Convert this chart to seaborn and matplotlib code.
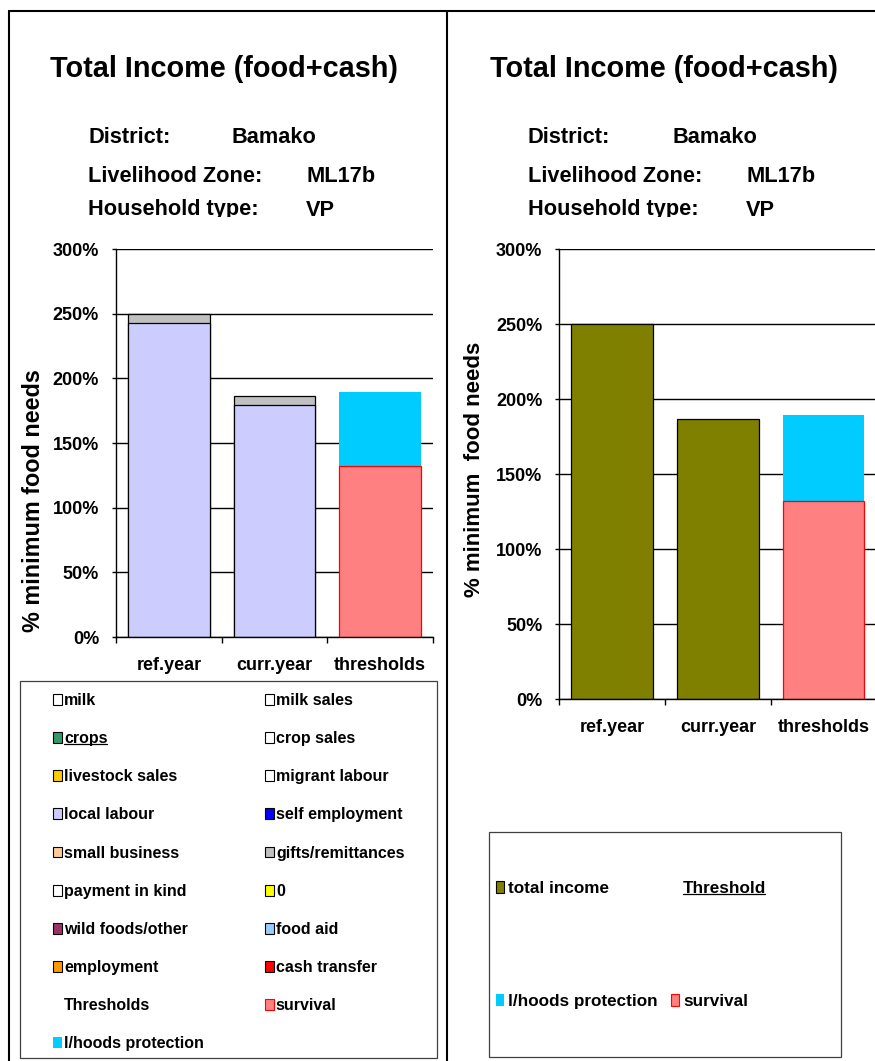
import matplotlib
matplotlib.use("Agg")
import matplotlib.pyplot as plt
from matplotlib import font_manager
from matplotlib.patches import Patch, Rectangle
from matplotlib.lines import Line2D
from matplotlib.ticker import FuncFormatter, FixedLocator, MultipleLocator
from matplotlib.transforms import Bbox, TransformedBbox
import pandas as pd
import seaborn as sns

# ---------------------------------------------------------------- data
categories = ["ref.year", "curr.year", "thresholds"]

income_sources = ["milk", "milk sales", "crops", "crop sales", "livestock sales",
                  "migrant labour", "local labour", "self employment",
                  "small business", "gifts/remittances", "payment in kind", "0",
                  "wild foods/other", "food aid", "employment", "cash transfer"]
ref_year_income = [0, 0, 0, 0, 0, 0, 242.5, 0, 0, 7.5, 0, 0, 0, 0, 0, 0]
curr_year_income = [0, 0, 0, 0, 0, 0, 179.3, 0, 0, 7.4, 0, 0, 0, 0, 0, 0]

threshold_levels = ["survival", "l/hoods protection"]
threshold_values = [132.0, 57.5]

district = "Bamako"
livelihood_zone = "ML17b"
household_type = "VP"

# ---------------------------------------------------------------- styling
source_colors = {
    "milk": "#FFFFFF", "milk sales": "#FFFFFF", "crops": "#339966",
    "crop sales": "#FFFFFF", "livestock sales": "#FFCC00",
    "migrant labour": "#FFFFFF", "local labour": "#CCCCFF",
    "self employment": "#0000FF", "small business": "#FFCC99",
    "gifts/remittances": "#C0C0C0", "payment in kind": "#FFFFFF",
    "0": "#FFFF00", "wild foods/other": "#993366", "food aid": "#99CCFF",
    "employment": "#FF9900", "cash transfer": "#FF0000",
}
SURVIVAL = "#FF8080"
PROTECTION = "#00CCFF"
TOTAL = "#808000"

sns.set_style("white")
plt.rcParams["font.family"] = ["Liberation Sans", "DejaVu Sans"]
plt.rcParams["font.weight"] = "bold"
plt.rcParams["text.color"] = "black"
plt.rcParams["axes.labelcolor"] = "black"
plt.rcParams["xtick.color"] = "black"
plt.rcParams["ytick.color"] = "black"
plt.rcParams["legend.labelcolor"] = "black"

installed = {f.name for f in font_manager.fontManager.ttflist}
if "Liberation Sans Narrow" in installed:
    TITLE_FAMILY, TITLE_SIZE = ["Liberation Sans Narrow", "Liberation Sans"], 25
else:
    TITLE_FAMILY, TITLE_SIZE = ["Liberation Sans", "DejaVu Sans"], 20.8

W, H = 875, 1061
fig = plt.figure(figsize=(W / 100, H / 100), dpi=100)


def fx(px):
    return px / W


def fy(py):
    return 1 - py / H


# ---------------------------------------------------------------- tidy tables
rows = []
for cat, vals in (("ref.year", ref_year_income), ("curr.year", curr_year_income)):
    top = 0.0
    for src, v in zip(income_sources, vals):
        top += v
        rows.append(dict(category=cat, part=src, value=v, top=top))
top = 0.0
for lvl, v in zip(threshold_levels, threshold_values):
    top += v
    rows.append(dict(category="thresholds", part=lvl, value=v, top=top))
stack = pd.DataFrame(rows)

totals = (stack[stack.category != "thresholds"]
          .groupby("category", sort=False)["value"].sum().reset_index())

BAR_W = 0.77


def draw_layer(ax, sub, color, edge, lw):
    if sub.empty:
        return
    sns.barplot(data=sub, x="category", y="top", order=categories, color=color,
                saturation=1, width=BAR_W, edgecolor=edge, linewidth=lw,
                errorbar=None, ax=ax)


def style_axes(ax, ylabel, label_xy, label_size):
    ax.set_xlim(-0.5, 2.5)
    ax.set_ylim(0, 300)
    ax.yaxis.set_major_locator(MultipleLocator(50))
    ax.yaxis.set_major_formatter(FuncFormatter(lambda v, _: f"{v:.0f}%"))
    ax.grid(axis="y", color="black", linewidth=1.0)
    ax.grid(axis="x", visible=False)
    ax.set_axisbelow(True)
    for s in ("top", "right"):
        ax.spines[s].set_visible(False)
    for s in ("left", "bottom"):
        ax.spines[s].set_color("black")
        ax.spines[s].set_linewidth(1.0)
    ax.tick_params(axis="y", which="major", left=True, length=3.2, width=1,
                   color="black", pad=9, labelsize=13, labelcolor="black")
    ax.tick_params(axis="x", which="major", bottom=False, length=0, pad=14.5,
                   labelsize=13, labelcolor="black")
    ax.xaxis.set_minor_locator(FixedLocator([-0.5, 0.5, 1.5, 2.5]))
    ax.tick_params(axis="x", which="minor", bottom=True, length=4, width=1,
                   color="black")
    for lab in ax.get_xticklabels() + ax.get_yticklabels():
        lab.set_fontweight("bold")
    ax.set_xlabel("")
    ax.set_ylabel(ylabel, fontsize=label_size, fontweight="bold", color="black")
    ax.yaxis.set_label_coords(*label_xy)
    ax.yaxis.label.set_verticalalignment("center")


# ---------------------------------------------------------------- left panel
axL = fig.add_axes([fx(116), fy(637), fx(433) - fx(116), (637 - 249) / H])
for src in reversed(income_sources):
    sub = stack[(stack.part == src) & (stack.value > 0)]
    draw_layer(axL, sub, source_colors[src], "black", 0.9)
draw_layer(axL, stack[(stack.part == "l/hoods protection") & (stack.value > 0)],
           PROTECTION, "none", 0)
draw_layer(axL, stack[(stack.part == "survival") & (stack.value > 0)],
           SURVIVAL, "#FF0000", 0.9)
style_axes(axL, "% minimum food needs", ((34 - 116) / 317, (637 - 501) / 388),
           16.8)

# ---------------------------------------------------------------- right panel
axR = fig.add_axes([fx(559.3), fy(699.3), (876.4 - 559.3) / W, (699.3 - 249) / H])
sns.barplot(data=totals, x="category", y="value", order=categories, color=TOTAL,
            saturation=1, width=BAR_W, edgecolor="black", linewidth=0.9,
            errorbar=None, ax=axR)
draw_layer(axR, stack[stack.part == "l/hoods protection"], PROTECTION, "none", 0)
draw_layer(axR, stack[stack.part == "survival"], SURVIVAL, "#FF0000", 0.9)
style_axes(axR, "% minimum  food needs", ((475 - 559.3) / 317, 0.511), 16)

# ---------------------------------------------------------------- headings
clip_box = TransformedBbox(Bbox([[0, fy(217)], [1, 1]]), fig.transFigure)
for x_title, x_lab, x_dist, x_val in ((224, 88, 232, 306), (664, 527.7, 672, 746)):
    fig.text(fx(x_title), fy(76.7), "Total Income (food+cash)", ha="center",
             va="baseline", fontsize=TITLE_SIZE, family=TITLE_FAMILY,
             weight="bold", color="black")
    lines = [("District:", x_dist, district, 143),
             ("Livelihood Zone:", x_val, livelihood_zone, 182),
             ("Household type:", x_val, household_type, 215.5)]
    for lab, xv, val, yb in lines:
        for xx, s in ((x_lab, lab), (xv, val)):
            t = fig.text(fx(xx), fy(yb), s, ha="left", va="baseline",
                         fontsize=15.7, weight="bold", color="black")
            t.set_clip_on(True)
            t.set_clip_box(clip_box)

# ---------------------------------------------------------------- page frame
frame_kw = dict(transform=fig.transFigure, color="black", linewidth=1.5)
fig.add_artist(Line2D([fx(9), 1], [fy(11), fy(11)], **frame_kw))
fig.add_artist(Line2D([fx(9), fx(9)], [fy(11), 0], **frame_kw))
fig.add_artist(Line2D([fx(447), fx(447)], [fy(11), 0], **frame_kw))

# ---------------------------------------------------------------- legends
box_kw = dict(transform=fig.transFigure, facecolor="white", edgecolor="#404040",
              linewidth=0.9)
fig.add_artist(Rectangle((fx(20), fy(1058)), (437 - 20) / W, (1058 - 681) / H,
                         **box_kw))
fig.add_artist(Rectangle((fx(489.3), fy(1057)), (841 - 489.3) / W,
                         (1057 - 831.7) / H, **box_kw))

blank = Patch(facecolor="none", edgecolor="none")
left_entries = [(Patch(facecolor=source_colors[s], edgecolor="black",
                       linewidth=0.8), s) for s in income_sources]
left_entries += [(blank, "Thresholds"),
                 (Patch(facecolor=SURVIVAL, edgecolor="#FF0000", linewidth=0.8),
                  "survival"),
                 (Patch(facecolor=PROTECTION, edgecolor="none"),
                  "l/hoods protection")]
ordered = left_entries[0::2] + left_entries[1::2]
legL = fig.legend([h for h, _ in ordered], [l for _, l in ordered],
                  loc="upper left", bbox_to_anchor=(fx(52.7), fy(693)),
                  bbox_transform=fig.transFigure, ncol=2, frameon=False,
                  borderpad=0, borderaxespad=0, handlelength=0.56,
                  handleheight=0.66, handletextpad=0.15, columnspacing=3.8,
                  labelspacing=1.45, labelcolor="black",
                  prop=dict(size=11.5, weight="bold"))

right_entries = [(Patch(facecolor=TOTAL, edgecolor="black", linewidth=0.8),
                  "total income"),
                 (Patch(facecolor=PROTECTION, edgecolor="none"),
                  "l/hoods protection"),
                 (blank, "Threshold"),
                 (Patch(facecolor=SURVIVAL, edgecolor="#FF0000", linewidth=0.8),
                  "survival")]
legR = fig.legend([h for h, _ in right_entries], [l for _, l in right_entries],
                  loc="upper left", bbox_to_anchor=(fx(496), fy(881)),
                  bbox_transform=fig.transFigure, ncol=2, frameon=False,
                  borderpad=0, borderaxespad=0, handlelength=0.49,
                  handleheight=0.74, handletextpad=0.22, columnspacing=0.76,
                  labelspacing=5.73, labelcolor="black",
                  prop=dict(size=12.3, weight="bold"))

# underline the linked labels
fig.canvas.draw()
renderer = fig.canvas.get_renderer()
underlined = [t for t in legL.get_texts() if t.get_text() == "crops"]
underlined += [t for t in legR.get_texts() if t.get_text() == "Threshold"]
for t in underlined:
    bb = t.get_window_extent(renderer)
    fs_px = t.get_fontsize() * fig.dpi / 72
    yline = bb.y0 + 0.13 * fs_px
    fig.add_artist(Line2D([bb.x0 / W, (bb.x1 - 1) / W], [yline / H, yline / H],
                          transform=fig.transFigure, color="black",
                          linewidth=0.9))

fig.savefig("out.png", dpi=100, facecolor="white")
